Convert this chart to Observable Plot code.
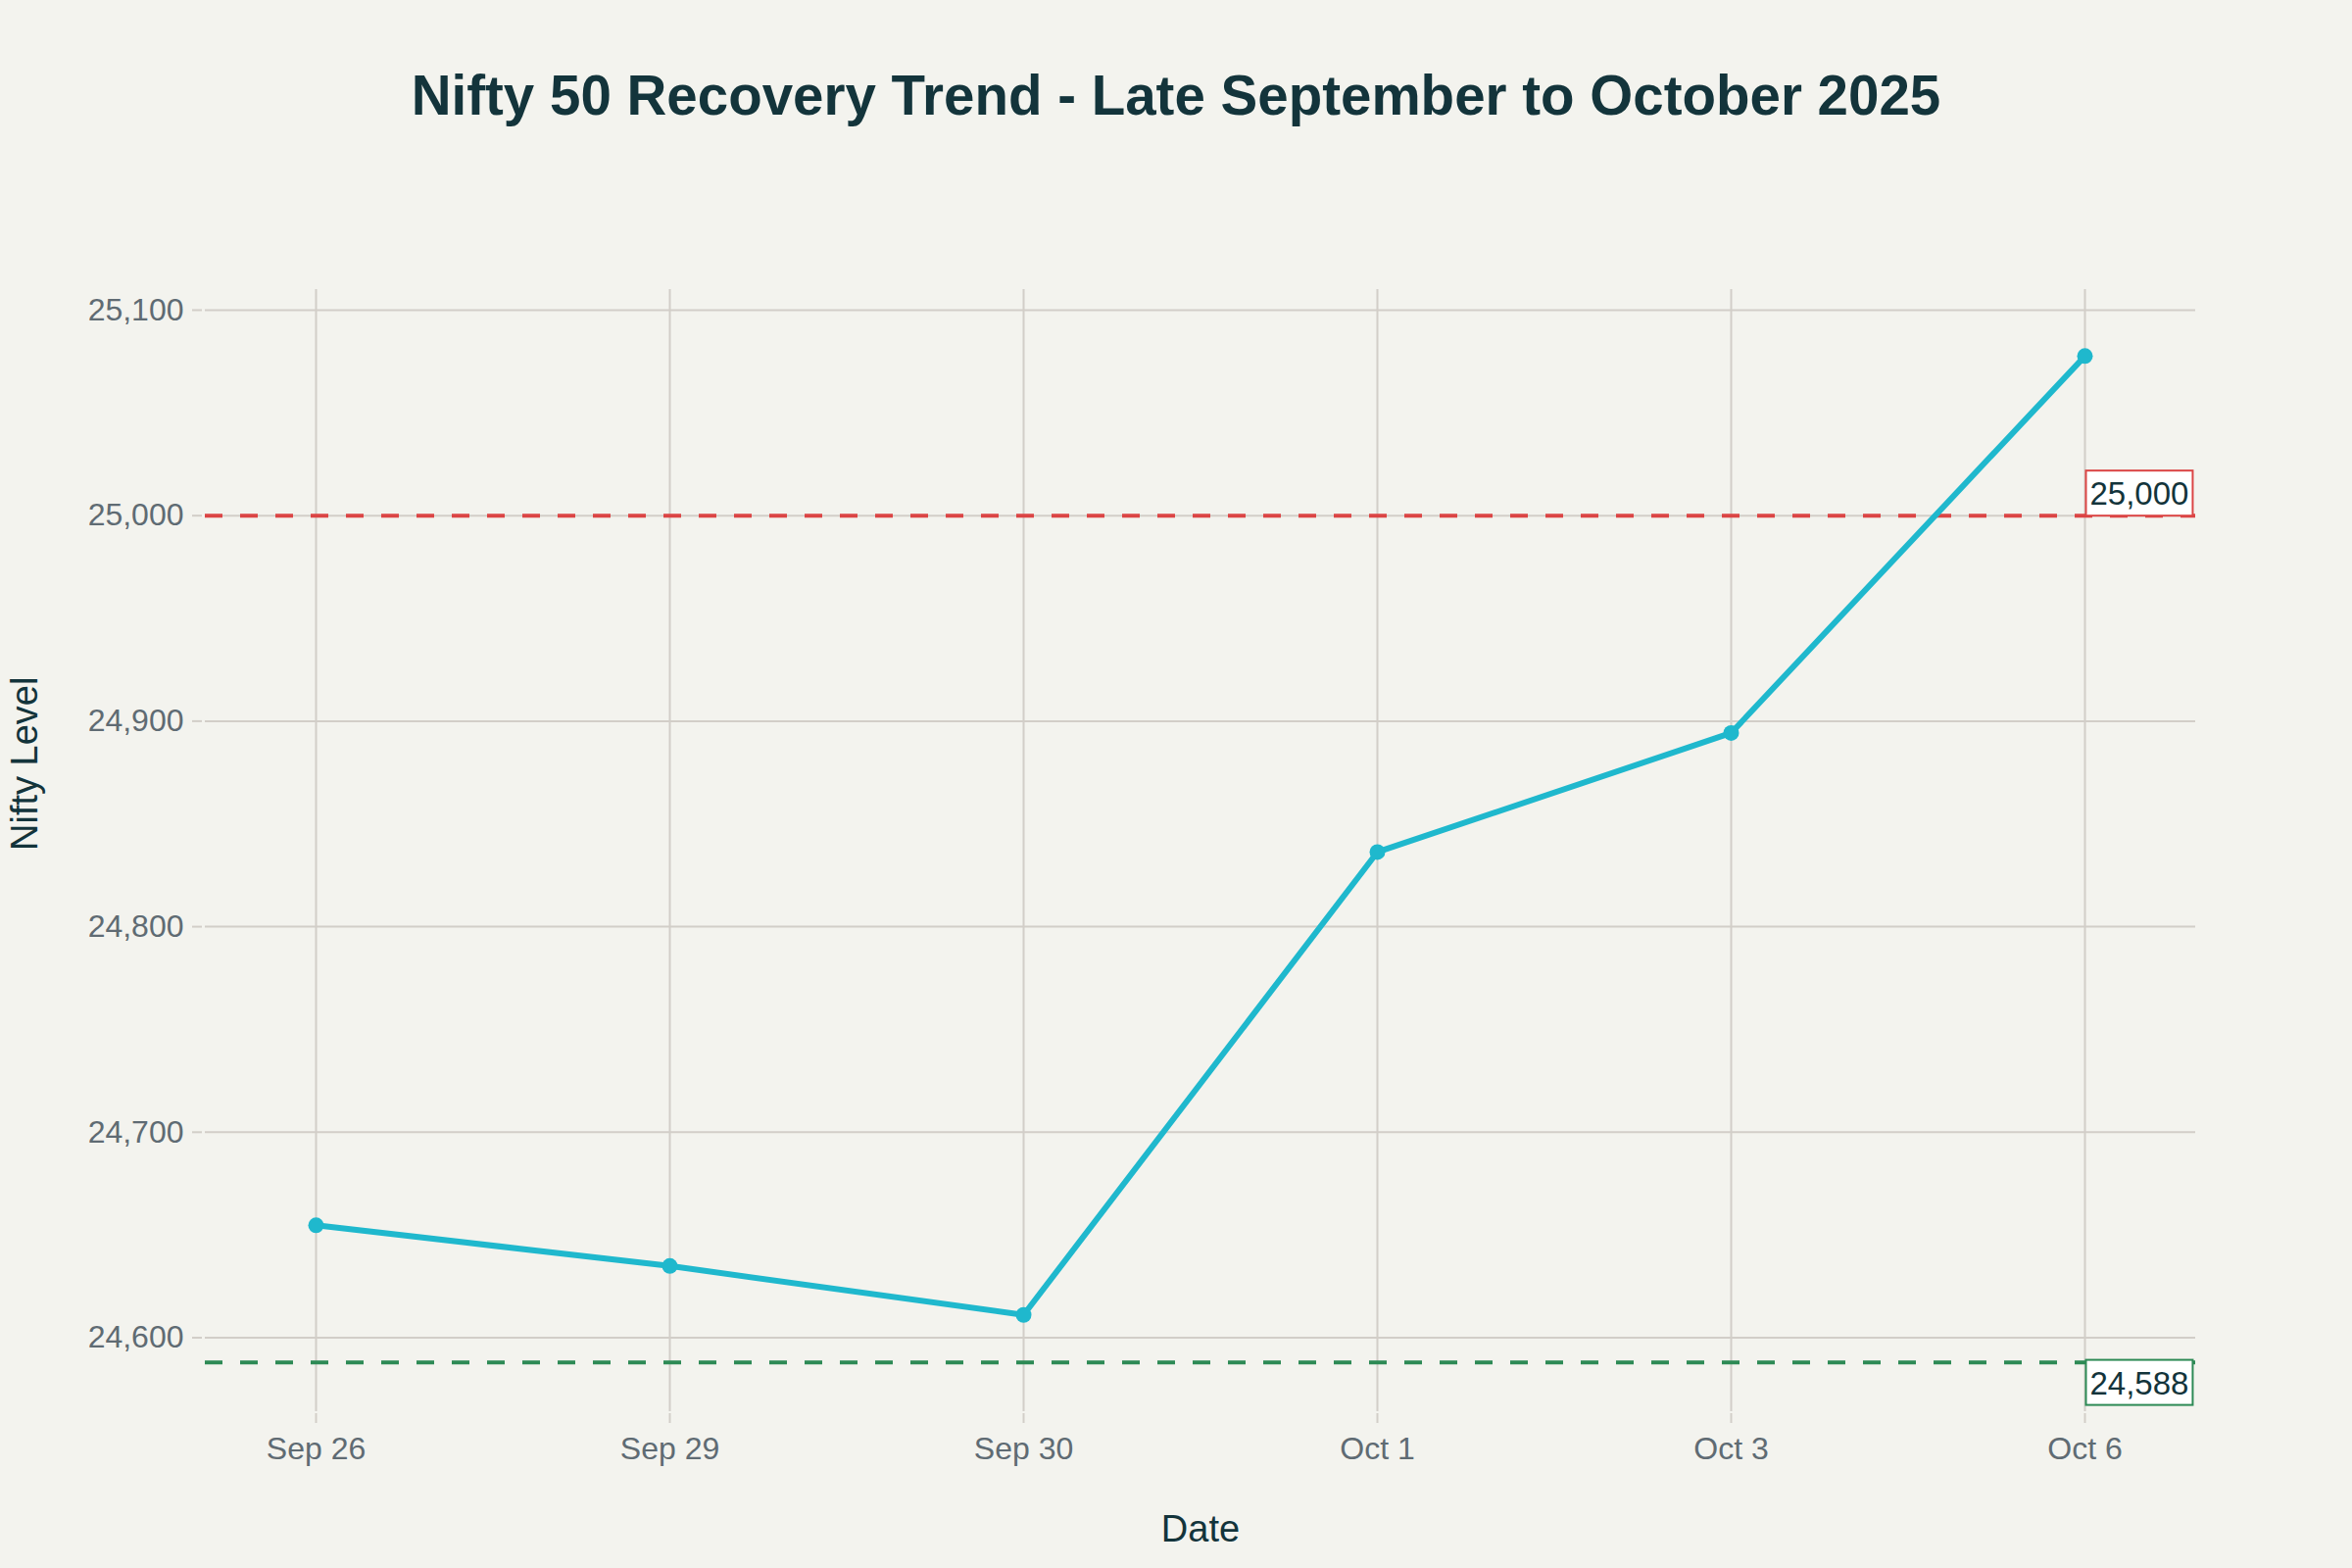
<!DOCTYPE html>
<html>
<head>
<meta charset="utf-8">
<script src="https://cdn.jsdelivr.net/npm/d3@7"></script>
<script src="https://cdn.jsdelivr.net/npm/@observablehq/plot@0.6"></script>
<style>
  html, body { margin: 0; padding: 0; background: #F3F3EE; }
  body { width: 2400px; height: 1600px; overflow: hidden; font-family: "Liberation Sans", Arial, sans-serif; }
  #title { height: 200px; box-sizing: border-box; padding-top: 70px; text-align: center;
           font-size: 56.5px; line-height: 1; font-weight: bold; color: #13343B; }
  #chart svg { display: block; }
</style>
</head>
<body>
<div id="title">Nifty 50 Recovery Trend - Late September to October 2025</div>
<div id="chart"></div>
<script>
// ---- data ----
const dates = ["Sep 26", "Sep 29", "Sep 30", "Oct 1", "Oct 3", "Oct 6"];
const niftyClose = [24654.70, 24634.90, 24611.10, 24836.30, 24894.25, 25077.65];
const yTicks = [24600, 24700, 24800, 24900, 25000, 25100];
const resistanceLevel = [25000];
const supportLevel = [24588];
const resistanceLabel = ["25,000"];
const supportLabel = ["24,588"];

const series = dates.map((d, i) => ({ date: d, close: niftyClose[i] }));
const labelDate = dates[dates.length - 1];

const red = "#DB4545";
const green = "#2D8A55";
const teal = "#1FB8CD";
const grid = "#D2CEC8";

const chart = Plot.plot({
  width: 2400,
  height: 1400,
  marginTop: 95,
  marginBottom: 160,
  marginLeft: 209,
  marginRight: 160,
  style: { background: "transparent", fontFamily: "'Liberation Sans', Arial, sans-serif", fontSize: "32px", color: "#5F6B73", overflow: "visible" },
  x: { type: "point", domain: dates, padding: 0.31, label: null },
  y: { domain: [24564, 25110], label: null },
  marks: [
    Plot.gridX(dates, { stroke: grid, strokeOpacity: 1, strokeWidth: 2 }),
    Plot.gridY(yTicks, { stroke: grid, strokeOpacity: 1, strokeWidth: 2 }),
    Plot.axisX({ tickSize: 10, dy: 2, tickPadding: 14, stroke: grid, strokeWidth: 2, fill: "#5F6B73", fontSize: 32 }),
    Plot.axisY(yTicks, { tickSize: 10, dx: -3, tickPadding: 9, stroke: grid, strokeWidth: 2, fill: "#5F6B73", fontSize: 32, tickFormat: d3.format(",") }),
    Plot.ruleY(resistanceLevel, { stroke: red, strokeWidth: 4, strokeDasharray: "18,18" }),
    Plot.ruleY(supportLevel, { stroke: green, strokeWidth: 4, strokeDasharray: "18,18" }),
    Plot.line(series, { x: "date", y: "close", stroke: teal, strokeWidth: 6 }),
    Plot.dot(series, { x: "date", y: "close", r: 8, fill: teal, stroke: "none" }),
    Plot.text(resistanceLevel, { x: () => labelDate, y: d => d, text: (d, i) => resistanceLabel[i],
      textAnchor: "start", lineAnchor: "bottom", dx: 5, dy: -11, fill: "#13343B", fontSize: 33, className: "lvl-red" }),
    Plot.text(supportLevel, { x: () => labelDate, y: d => d, text: (d, i) => supportLabel[i],
      textAnchor: "start", lineAnchor: "top", dx: 5, dy: 9, fill: "#13343B", fontSize: 33, className: "lvl-green" }),
    Plot.text(["Date"], { frameAnchor: "bottom", dy: 120, lineAnchor: "middle", fill: "#13343B", fontSize: 38 }),
    Plot.text(["Nifty Level"], { frameAnchor: "left", dx: -184, rotate: -90, lineAnchor: "middle", fill: "#13343B", fontSize: 38 })
  ]
});

document.getElementById("chart").appendChild(chart);

// add boxed backgrounds behind the level labels
function boxLabels(cls, color) {
  const g = chart.querySelector("g." + cls) || chart.querySelector("." + cls);
  if (!g) return;
  g.querySelectorAll("text").forEach(t => {
    const b = t.getBBox();
    const ns = "http://www.w3.org/2000/svg";
    const r = document.createElementNS(ns, "rect");
    const ctm = t.getAttribute("transform");
    r.setAttribute("x", b.x - 4);
    r.setAttribute("y", b.y - 5);
    r.setAttribute("width", b.width + 8);
    r.setAttribute("height", b.height + 9);
    r.setAttribute("fill", "#FFFFFF");
    r.setAttribute("stroke", color);
    r.setAttribute("stroke-width", 2);
    if (ctm) r.setAttribute("transform", ctm);
    t.parentNode.insertBefore(r, t);
  });
}
boxLabels("lvl-red", red);
boxLabels("lvl-green", green);
</script>
</body>
</html>
